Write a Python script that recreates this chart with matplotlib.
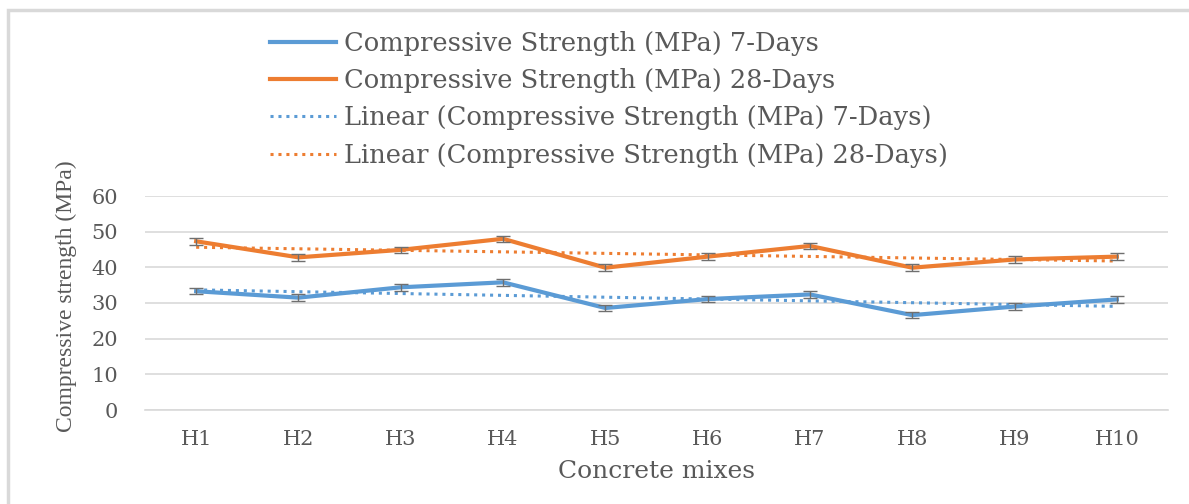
import numpy as np
import matplotlib
matplotlib.use("Agg")
import matplotlib.pyplot as plt
from matplotlib.patches import Rectangle

mixes = ['H1', 'H2', 'H3', 'H4', 'H5', 'H6', 'H7', 'H8', 'H9', 'H10']
strength_7d = [33.3, 31.5, 34.4, 35.8, 28.6, 31.1, 32.4, 26.6, 29.0, 31.0]
strength_28d = [47.3, 42.8, 44.9, 48.0, 39.9, 43.0, 46.0, 39.9, 42.2, 43.0]
err_7d = [0.9] * 10
err_28d = [0.9] * 10

blue = '#5b9bd5'
orange = '#ed7d31'
text_col = '#595959'
grid_col = '#d9d9d9'

# the source picture is stretched sideways, so a wide serif face fits it better
plt.rcParams['font.family'] = ['DejaVu Serif']

fig = plt.figure(figsize=(11.89, 5.04), dpi=100)
ax = fig.add_axes([145 / 1189, 1 - 410 / 504, (1168 - 145) / 1189, (410 - 196) / 504])

# outer chart frame
fig.patches.append(Rectangle((8 / 1189, -0.1), 1.2, 1 - 10 / 504 + 0.1, transform=fig.transFigure,
                             fill=False, edgecolor='#d9d9d9', linewidth=2.5))

x = np.arange(len(mixes))

l7, = ax.plot(x, strength_7d, color=blue, linewidth=3, zorder=4,
              label='Compressive Strength (MPa) 7-Days')
l28, = ax.plot(x, strength_28d, color=orange, linewidth=3, zorder=4,
               label='Compressive Strength (MPa) 28-Days')
ax.errorbar(x, strength_7d, yerr=err_7d, fmt='none', ecolor='#6f6f6f', elinewidth=1, capsize=5, zorder=5)
ax.errorbar(x, strength_28d, yerr=err_28d, fmt='none', ecolor='#6f6f6f', elinewidth=1, capsize=5, zorder=5)

# linear trendlines, as excel does them
k7, b7 = np.polyfit(x, strength_7d, 1)
k28, b28 = np.polyfit(x, strength_28d, 1)
t7, = ax.plot(x, k7 * x + b7, color=blue, linewidth=2.2, linestyle=(0, (1, 1.6)), zorder=3,
              label='Linear (Compressive Strength (MPa) 7-Days)')
t28, = ax.plot(x, k28 * x + b28, color=orange, linewidth=2.2, linestyle=(0, (1, 1.6)), zorder=3,
               label='Linear (Compressive Strength (MPa) 28-Days)')

ax.set_xlim(-0.5, len(mixes) - 0.5)
ax.set_ylim(0, 60)
ax.set_yticks(range(0, 61, 10))
ax.set_xticks(x)
ax.set_xticklabels(mixes)
ax.grid(axis='y', color=grid_col, linewidth=1.2)
ax.set_axisbelow(True)
for s in ['top', 'right', 'left']:
    ax.spines[s].set_visible(False)
ax.spines['bottom'].set_color(grid_col)
ax.spines['bottom'].set_linewidth(1.2)
ax.tick_params(length=0, labelsize=15, colors=text_col, pad=14.5)
ax.tick_params(axis='y', pad=19.5)

ax.set_ylabel('Compressive strength (MPa)', fontsize=17, color=text_col,
              family=['Liberation Serif', 'DejaVu Serif'])
ax.yaxis.set_label_coords(-0.066, 0.533)
ax.set_xlabel('Concrete mixes', fontsize=18, color=text_col, labelpad=8)

fig.legend(handles=[l7, l28, t7, t28], loc='upper left', bbox_to_anchor=(260 / 1189, 1 - 21 / 504),
           frameon=False, fontsize=18.5, labelcolor=text_col, handlelength=2.55, handletextpad=0.33,
           labelspacing=0.47, borderaxespad=0)

fig.savefig('out.png', dpi=100)
